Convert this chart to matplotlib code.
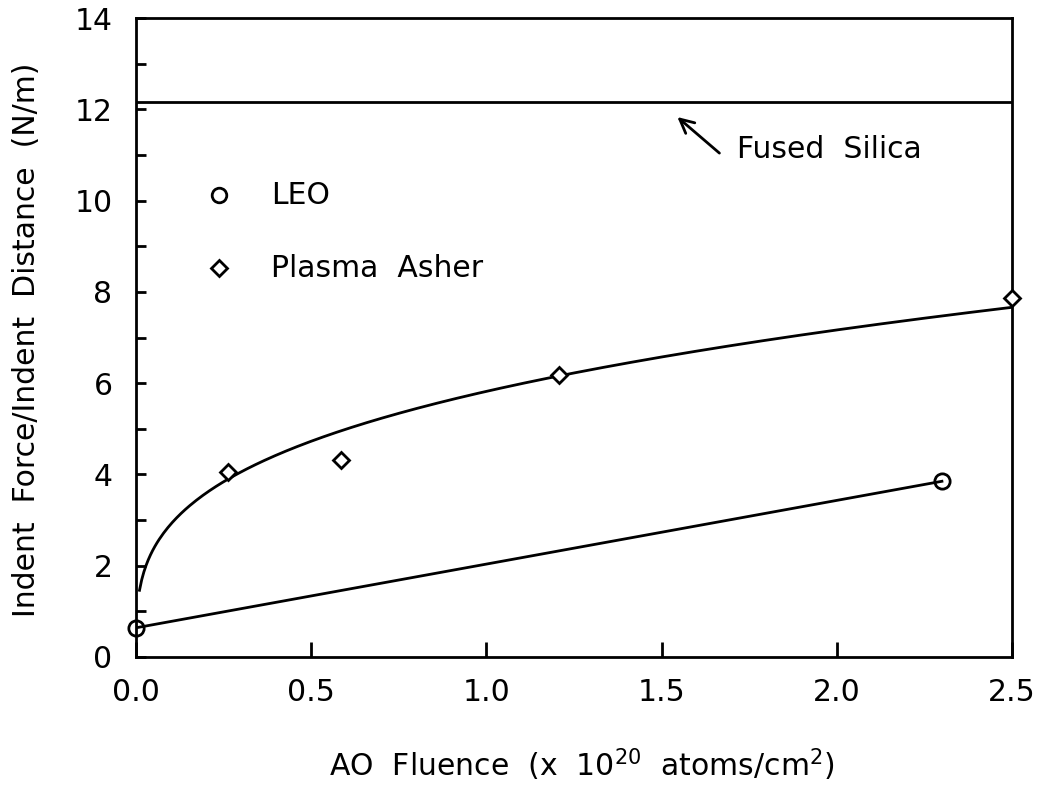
import numpy as np
import matplotlib
matplotlib.use("Agg")
import matplotlib.pyplot as plt

# ---- data ----
leo_x = [0.0, 2.3]
leo_y = [0.64, 3.85]
asher_x = [0.263, 0.584, 1.207, 2.5]
asher_y = [4.05, 4.32, 6.18, 7.87]
fit_a = 5.82          # power-law fit y = a * x**b for plasma asher
fit_b = 0.30
fit_range = (0.01, 2.5)
fused_silica = 12.17

x_ticks = [0.0, 0.5, 1.0, 1.5, 2.0, 2.5]
x_ticklabels = ["0.0", "0.5", "1.0", "1.5", "2.0", "2.5"]
y_ticks = [0, 2, 4, 6, 8, 10, 12, 14]
y_minor = [1, 3, 5, 7, 9, 11, 13]

plt.rcParams['font.family'] = ['DejaVu Sans']
FS = 21.5

fig = plt.figure(figsize=(10.4, 7.85), dpi=100)
ax = fig.add_axes([136/1040, 1-657/785, (1012-136)/1040, (657-18)/785])

ax.set_xlim(0, 2.5)
ax.set_ylim(0, 14)

LW = 2.0
# fused silica reference
ax.axhline(fused_silica, color='black', lw=LW)

# fit curve
xf = np.linspace(fit_range[0], fit_range[1], 400)
ax.plot(xf, fit_a * xf ** fit_b, color='black', lw=LW)

# LEO line + points
ax.plot(leo_x, leo_y, color='black', lw=LW)
ax.plot(leo_x, leo_y, 'o', mfc='none', mec='black', mew=LW, ms=11, clip_on=False)
ax.plot(asher_x, asher_y, 'D', mfc='white', mec='black', mew=LW, ms=7.8, clip_on=False, zorder=5)

# legend (manual)
ax.plot([0.237], [10.12], 'o', mfc='none', mec='black', mew=LW, ms=10.5)
ax.plot([0.237], [8.52], 'D', mfc='none', mec='black', mew=LW, ms=7.8)
ax.text(0.386, 10.12, "LEO", fontsize=FS, va='center', ha='left')
ax.text(0.386, 8.52, "Plasma  Asher", fontsize=FS, va='center', ha='left')

# annotation
ax.annotate("", xy=(1.545, 11.83), xytext=(1.665, 11.04),
            arrowprops=dict(arrowstyle='->', color='black', lw=LW,
                            mutation_scale=25, shrinkA=0, shrinkB=0))
ax.text(1.716, 11.11, "Fused  Silica", fontsize=FS, va='center', ha='left')

# ticks
ax.set_xticks(x_ticks)
ax.set_xticklabels(x_ticklabels)
ax.set_yticks(y_ticks)
ax.set_yticks(y_minor, minor=True)
ax.tick_params(axis='x', direction='in', length=11, width=LW, labelsize=FS, pad=15)
ax.tick_params(axis='y', which='major', direction='in', length=7, width=LW, labelsize=FS, pad=17)
ax.tick_params(axis='y', which='minor', direction='in', length=7, width=LW)
for s in ax.spines.values():
    s.set_linewidth(LW)

fig.text(27/1040, 1-340/785, "Indent  Force/Indent  Distance  (N/m)", rotation=90,
         fontsize=FS, ha='center', va='center')
fig.text(582/1040, 1-765/785, "AO  Fluence  (x  10$^{20}$  atoms/cm$^{2}$)",
         fontsize=FS, ha='center', va='center')

fig.savefig("out.png", dpi=100)
